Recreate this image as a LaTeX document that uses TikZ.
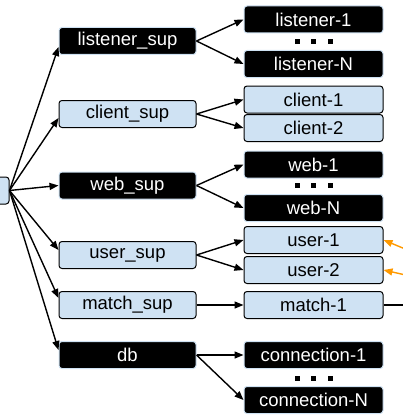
\documentclass[tikz,border=0pt]{standalone}
\usepackage{fontspec}
\setmainfont{Liberation Sans}
\usetikzlibrary{arrows.meta,positioning}
\definecolor{lblue}{HTML}{CFE2F3}
\definecolor{orng}{HTML}{FF9900}
\tikzset{%
   box/.style={rounded corners=3pt, line width=1pt, minimum height=27pt, inner sep=0pt,
     font=\fontsize{18.5}{20}\selectfont},
   dark/.style={box, draw=lblue, fill=black, text=white},
   light/.style={box, draw=black, fill=lblue, text=black},
   sup/.style={minimum width=137pt},
   kid/.style={minimum width=139pt},
   arr/.style={-{Triangle[length=9pt,width=7pt]}, line width=1.4pt},
}
\begin{document}
\begin{tikzpicture}[x=1pt, y=-1pt]
      \useasboundingbox (0,0) rectangle (403,420);
      % root
      \node[light, minimum width=140pt] (root) at (-61,190.5) {};
      % supervisors
      \node[dark, sup] (lsup) at (127.5,41) {listener\_sup};
      \node[light, sup] (csup) at (127.5,114) {client\_sup};
      \node[dark, sup] (wsup) at (127.5,185.5) {web\_sup};
      \node[light, sup] (usup) at (127.5,255) {user\_sup};
      \node[light, sup] (msup) at (127.5,305) {match\_sup};
      \node[dark, sup] (db) at (127.5,355) {db};
      % workers
      \node[dark, kid] (l1) at (313.5,19.5) {listener-1};
      \node[dark, kid] (lN) at (313.5,64) {listener-N};
      \node[light, kid] (c1) at (313.5,99.5) {client-1};
      \node[light, kid] (c2) at (313.5,128) {client-2};
      \node[dark, kid] (w1) at (313.5,164.5) {web-1};
      \node[dark, kid] (wN) at (313.5,208) {web-N};
      \node[light, kid] (u1) at (313.5,240) {user-1};
      \node[light, kid] (u2) at (313.5,270) {user-2};
      \node[light, kid] (m1) at (313.5,305) {match-1};
      \node[dark, kid] (con1) at (313.5,355) {connection-1};
      \node[dark, kid] (conN) at (313.5,400) {connection-N};
      \foreach \y in {42,185,378}
         \foreach \x in {297,313.5,330}
            \fill (\x-2.5,\y-2.5) rectangle ++(5,5);
      % edges
      \foreach \s/\d in {lsup/-6,csup/-4,wsup/0,usup/5,msup/7,db/5}
         \draw[arr] (root.east) -- ([yshift=\d pt]\s.west);
      \draw[arr] (lsup.east) -- (l1.west);
      \draw[arr] (lsup.east) -- (lN.west);
      \draw[arr] (csup.east) -- (c1.west);
      \draw[arr] (csup.east) -- (c2.west);
      \draw[arr] (wsup.east) -- (w1.west);
      \draw[arr] (wsup.east) -- (wN.west);
      \draw[arr] (usup.east) -- (u1.west);
      \draw[arr] (usup.east) -- (u2.west);
      \draw[arr] (msup.east) -- (m1.west);
      \draw[arr] (db.east) -- (con1.west);
      \draw[arr] (db.east) -- (conN.west);
      % outside links
      \coordinate (o1) at (410,251);
      \coordinate (o2) at (410,276);
      \coordinate (mo) at (410,305);
      \draw[arr, orng] (o1) -- (u1.east);
      \draw[arr, orng] (o2) -- (u2.east);
      \draw[line width=1.4pt] (m1.east) -- (mo);
\end{tikzpicture}
\end{document}
